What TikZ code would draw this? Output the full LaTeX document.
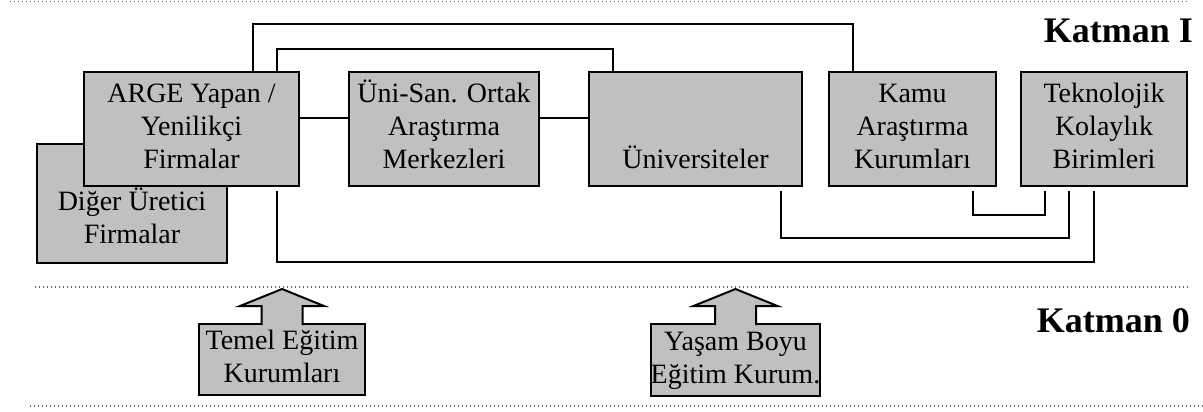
\documentclass[tikz,border=0pt]{standalone}
\usepackage{fontspec}
\setmainfont{Liberation Serif}
\usetikzlibrary{calc}
\definecolor{boxgray}{HTML}{C0C0C0}
\begin{document}
\begin{tikzpicture}[x=1pt,y=-1pt,
  box/.style={draw=black, fill=boxgray, line width=2pt, inner sep=0pt, outer sep=0pt,
    align=center, font=\fontsize{28}{33}\selectfont},
  link/.style={draw=black, line width=1.8pt},
  layer/.style={draw=black!60, line width=1.3pt, dash pattern=on 1.3pt off 2.7pt},
  arrowline/.style={draw=black, line width=2pt, line join=miter},
  title/.style={font=\fontsize{36}{40}\selectfont\bfseries, inner sep=0pt, anchor=base east}]
\useasboundingbox (0,0) rectangle (1203,412);

% layer separators
\draw[layer] (10,1.5) -- (1187,1.5);
\draw[layer] (35,287) -- (1188,287);
\draw[layer] (30,406) -- (1203,406);

% layer titles
\node[title] (k1) at (1193,43) {Katman I};
\node[title] (k0) at (1190,332) {Katman 0};

% Katman I boxes
\node[box, minimum width=190pt, minimum height=119pt] (diger) at (132,203.5)
  {\strut\\Diğer Üretici\\Firmalar\strut};
\node[box, minimum width=215pt, minimum height=114pt] (arge) at (191.5,129)
  {\strut ARGE Yapan /\\Yenilikçi\\Firmalar\strut};
\node[box, minimum width=190pt, minimum height=114pt] (unisan) at (444,129)
  {\strut Üni-San. Ortak\\Araştırma\\Merkezleri\strut};
\node[box, minimum width=213pt, minimum height=114pt] (univ) at (695.5,129)
  {\strut\\ \strut\\Üniversiteler\strut};
\node[box, minimum width=167pt, minimum height=114pt] (kamu) at (912.5,129)
  {\strut Kamu\\Araştırma\\Kurumları\strut};
\node[box, minimum width=166pt, minimum height=114pt] (tekno) at (1104,129)
  {\strut Teknolojik\\Kolaylık\\Birimleri\strut};

% connectors
\draw[link] ([xshift=169pt]arge.north west) -- ++(0,-48) -| ([xshift=24pt]kamu.north west);
\draw[link] ([xshift=193pt]arge.north west) -- ++(0,-23) -| ([xshift=24pt]univ.north west);
\draw[link] ([yshift=11pt]arge.east) -- ([yshift=11pt]unisan.west);
\draw[link] ([yshift=11pt]unisan.east) -- ([yshift=11pt]univ.west);
\draw[link] ([xshift=193pt,yshift=-5pt]arge.south west) -- ++(0,71) -| ([xshift=73pt,yshift=-5pt]tekno.south west);
\draw[link] ([xshift=192pt,yshift=-5pt]univ.south west) -- ++(0,47) -| ([xshift=48pt,yshift=-5pt]tekno.south west);
\draw[link] ([xshift=144pt,yshift=-5pt]kamu.south west) -- ++(0,24) -| ([xshift=24pt,yshift=-5pt]tekno.south west);

% Katman 0 boxes with upward arrows
\node[box, minimum width=166pt, minimum height=71pt] (temel) at (282,359.5)
  {\strut Temel Eğitim\\Kurumları\strut};
\node[box, minimum width=165pt, minimum height=72pt] (yasam) at (735.5,360)
  {\strut Yaşam Boyu\\Eğitim Kurum.\strut};

\foreach \n in {temel,yasam}{
  \fill[boxgray] ($(\n.north)+(-20.5,1.5)$) -- ($(\n.north)+(-20.5,-18)$)
    -- ($(\n.north)+(-42,-18)$) -- ($(\n.north)+(0,-35)$) -- ($(\n.north)+(42,-18)$)
    -- ($(\n.north)+(20.5,-18)$) -- ($(\n.north)+(20.5,1.5)$) -- cycle;
  \draw[arrowline] ($(\n.north)+(-20.5,1)$) -- ($(\n.north)+(-20.5,-18)$)
    -- ($(\n.north)+(-42,-18)$) -- ($(\n.north)+(0,-35)$) -- ($(\n.north)+(42,-18)$)
    -- ($(\n.north)+(20.5,-18)$) -- ($(\n.north)+(20.5,1)$);
}
\end{tikzpicture}
\end{document}
